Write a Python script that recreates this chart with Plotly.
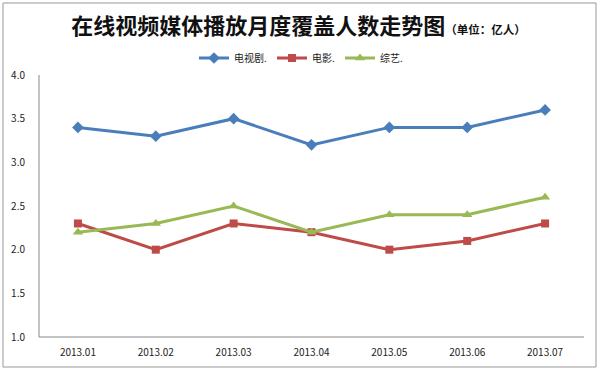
import plotly.graph_objects as go

months = ["2013.01", "2013.02", "2013.03", "2013.04", "2013.05", "2013.06", "2013.07"]
tv = [3.4, 3.3, 3.5, 3.2, 3.4, 3.4, 3.6]
movie = [2.3, 2.0, 2.3, 2.2, 2.0, 2.1, 2.3]
variety = [2.2, 2.3, 2.5, 2.2, 2.4, 2.4, 2.6]
y_ticks = [1.0, 1.5, 2.0, 2.5, 3.0, 3.5, 4.0]

W, H = 599, 370
L, R, T, B = 39, 15, 75, 33
pw, ph = W - L - R, H - T - B

fig = go.Figure()
series = [
    ("电视剧.", tv, "#4A7EBB", "diamond", 9),
    ("电影.", movie, "#BE4B48", "square", 8),
    ("综艺.", variety, "#98B954", "triangle-up", 9),
]
for name, vals, col, sym, ms in series:
    fig.add_trace(go.Scatter(
        x=months, y=vals, name=name, mode="lines+markers",
        line=dict(color=col, width=3),
        marker=dict(symbol=sym, size=ms, color=col),
    ))

def px(x):
    return (x - L) / pw

def py(y):
    return (H - B - y) / ph

fig.update_layout(
    width=W, height=H,
    margin=dict(l=L, r=R, t=T, b=B, autoexpand=False),
    paper_bgcolor="white", plot_bgcolor="white",
    font=dict(family="Noto Sans CJK SC, Liberation Sans, sans-serif", size=10, color="#222"),
    title=dict(
        text="<b>在线视频媒体播放月度覆盖人数走势图</b><span style='font-size:11.5px'><b>（单位：亿人）</b></span>",
        x=298.5 / W, xref="container", xanchor="center", y=1 - 26 / H, yref="container", yanchor="middle",
        font=dict(size=22, color="#111", family="Noto Sans CJK SC, sans-serif"),
    ),
    legend=dict(
        orientation="h", x=301 / W, xanchor="center", xref="container",
        y=1 - 58 / H, yref="container", yanchor="middle",
        font=dict(size=10, color="#222"), itemwidth=30,
    ),
    xaxis=dict(
        type="category", range=[-0.5, 6.5], showgrid=False,
        showline=False, ticks="", tickfont=dict(size=10, color="#222"),
        ticklabelstandoff=8,
    ),
    yaxis=dict(
        range=[1.0, 4.0], tickvals=y_ticks, ticktext=[f"{v:.1f}" for v in y_ticks],
        showgrid=False, showline=False, ticks="", zeroline=False,
        tickfont=dict(size=10, color="#222"), ticklabelstandoff=13,
    ),
    showlegend=True,
)

# axis lines (left and bottom)
fig.add_shape(type="line", xref="paper", yref="paper", x0=0, x1=0, y0=0, y1=1,
              line=dict(color="#888", width=1))
fig.add_shape(type="line", xref="paper", yref="paper", x0=0, x1=1, y0=0, y1=0,
              line=dict(color="#888", width=1))
# outer frame
fig.add_shape(type="rect", xref="paper", yref="paper",
              x0=px(3), x1=px(596), y0=py(367), y1=py(3),
              line=dict(color="#999", width=1))

fig.write_html("out.html", config={"displayModeBar": False},
               post_script="document.body.style.margin='0';document.body.style.overflow='hidden';")
